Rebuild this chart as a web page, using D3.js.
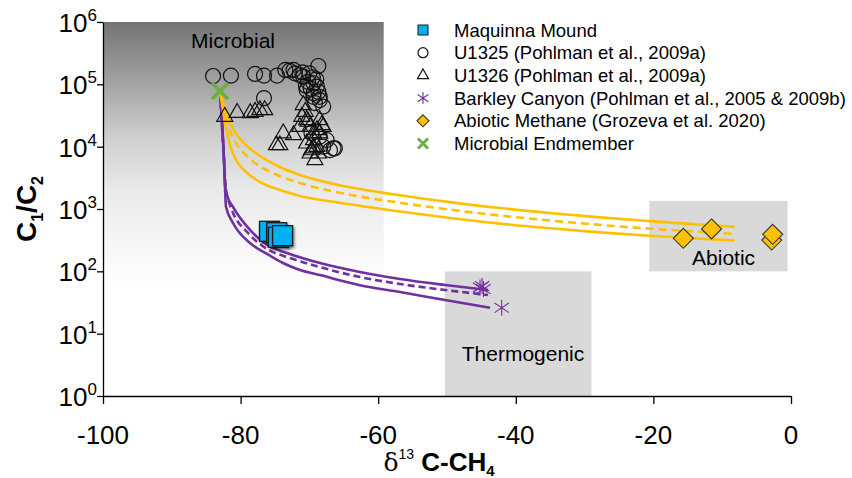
<!DOCTYPE html>
<html>
<head>
<meta charset="utf-8">
<script src="https://cdn.jsdelivr.net/npm/d3@7"></script>
<style>
  body { margin: 0; background: #fff; }
  svg { display: block; }
  text { font-family: "Liberation Sans", Arial, sans-serif; fill: #000; }
</style>
</head>
<body>
<svg id="chart" width="852" height="478"></svg>
<script>
// ---- axis ticks ----
const xTicks = [-100, -80, -60, -40, -20, 0];
const yExponents = [0, 1, 2, 3, 4, 5, 6];

// ---- samples: [δ13C-CH4, C1/C2] ----
const maquinna = [[-75.8, 439], [-74.75, 417], [-74.5, 352], [-73.9, 373]];

const u1325 = [
  [-84.0, 1.36e5], [-81.4, 1.38e5], [-77.9, 1.47e5], [-76.6, 1.38e5], [-74.7, 1.38e5],
  [-73.5, 1.7e5], [-72.9, 1.66e5], [-72.3, 1.7e5], [-72.1, 1.5e5], [-71.4, 1.41e5],
  [-68.7, 1.97e5], [-76.6, 6.0e4], [-70.9, 1.33e5], [-70.2, 1.1e5], [-69.4, 1.04e5],
  [-68.9, 9.2e4], [-68.7, 7.6e4], [-69.4, 7.2e4], [-70.4, 8.1e4], [-68.5, 5.6e4],
  [-69.2, 5.0e4], [-68.0, 4.4e4], [-68.5, 6.3e4], [-69.4, 6.3e4], [-70.0, 1.5e5],
  [-69.5, 1.3e5], [-71.0, 1.55e5], [-69.0, 1.2e5], [-70.5, 9.5e4], [-69.8, 8.5e4],
  [-69.7, 1.66e4], [-68.5, 1.45e4], [-67.5, 1.28e4], [-66.5, 9.4e3], [-67.0, 8.8e3],
  [-68.0, 1.0e4], [-66.3, 9.4e3]
];

const u1326 = [
  [-82.3, 3.03e4], [-80.5, 3.5e4], [-78.6, 3.47e4], [-77.9, 3.64e4], [-77.2, 3.88e4],
  [-76.5, 3.88e4], [-70.9, 4.67e4], [-70.6, 3.64e4], [-71.1, 3.03e4], [-70.4, 2.68e4],
  [-68.5, 2.68e4], [-69.9, 2.09e4], [-68.0, 2.09e4], [-71.4, 2.09e4], [-69.4, 1.64e4],
  [-68.5, 1.64e4], [-73.8, 1.64e4], [-72.3, 1.54e4], [-69.4, 1.28e4], [-68.9, 1.0e4],
  [-69.7, 8.8e3], [-68.7, 7.8e3], [-69.2, 6.1e3], [-74.3, 1.06e4], [-68.9, 1.85e4],
  [-68.2, 2.23e4], [-70.2, 2.52e4], [-70.4, 1.13e4], [-69.4, 9.4e3], [-69.9, 7.8e3],
  [-74.8, 1.06e4]
];

const barkley = [[-45.2, 55], [-44.9, 58], [-44.7, 52], [-42.05, 26]];
const abiotic = [[-15.65, 339], [-11.55, 478], [-2.8, 318], [-2.66, 393]];
const endmember = [[-83.0, 7.8e4]];

// ---- mixing curves ----
const purpleUpper = [
  [-83.0, 7.8e4], [-82.41, 6.1e3], [-82.27, 2.43e3], [-81.98, 1.68e3], [-81.1, 1.08e3],
  [-78.63, 461], [-76.16, 265], [-73.26, 197], [-68.46, 136], [-62.65, 97.6],
  [-56.83, 75.4], [-50.29, 60.4], [-44.04, 50.2]
];
const purpleMid = [
  [-83.0, 7.8e4], [-82.41, 6.1e3], [-82.12, 2.02e3], [-81.54, 1.16e3], [-78.63, 383],
  [-76.16, 228], [-72.82, 164], [-68.46, 117], [-62.65, 81], [-56.83, 62.6],
  [-50.29, 50.2], [-44.04, 41.7]
];
const purpleLower = [
  [-83.0, 7.8e4], [-82.41, 6.1e3], [-82.12, 1.09e3], [-81.1, 597], [-78.63, 285],
  [-76.16, 190], [-73.84, 136], [-71.37, 105], [-68.46, 87], [-62.65, 60],
  [-56.83, 46.6], [-50.29, 34.7], [-43.75, 26.1]
];
const yellowUpper = [
  [-83.0, 7.8e4], [-82.27, 4.18e4], [-81.69, 2.68e4], [-80.81, 1.72e4], [-79.36, 1.1e4],
  [-77.18, 7.09e3], [-74.27, 4.72e3], [-71.37, 3.51e3], [-65.55, 2.4e3], [-56.83, 1.66e3],
  [-49.56, 1.29e3], [-42.3, 1.035e3], [-35.03, 861], [-27.76, 733], [-20.49, 638],
  [-13.23, 562], [-8.14, 519]
];
const yellowMid = [
  [-83.0, 7.8e4], [-82.41, 3.88e4], [-81.83, 2.23e4], [-81.1, 1.38e4], [-79.8, 8.53e3],
  [-77.91, 5.47e3], [-75.0, 3.65e3], [-71.37, 2.61e3], [-65.55, 1.82e3], [-56.83, 1.26e3],
  [-49.56, 977], [-42.3, 785], [-35.03, 653], [-27.76, 556], [-20.49, 484],
  [-13.23, 431], [-8.14, 398]
];
const yellowLower = [
  [-83.0, 7.8e4], [-82.56, 3.88e4], [-82.12, 2.0e4], [-81.54, 1.06e4], [-80.67, 6.11e3],
  [-79.22, 3.93e3], [-77.18, 2.71e3], [-74.27, 2.02e3], [-71.37, 1.62e3], [-65.55, 1.26e3],
  [-56.83, 912], [-49.56, 716], [-42.3, 582], [-35.03, 490], [-27.76, 422],
  [-20.49, 372], [-13.23, 335], [-8.14, 313]
];

// ---- source fields ----
const fieldNames = ["Microbial", "Thermogenic", "Abiotic"];
const fieldX = [[-100, -59.2], [-50.3, -29.0], [-20.6, -0.5]];
const fieldY = [[1e6, 50], [100, 1], [1350, 100]];
const fieldLabelAt = [[-81.1, 10 ** 5.711], [-38.95, 10 ** 0.674], [-9.8, 10 ** 2.214]];

const legendLabels = [
  "Maquinna Mound",
  "U1325 (Pohlman et al., 2009a)",
  "U1326 (Pohlman et al., 2009a)",
  "Barkley Canyon (Pohlman et al., 2005 & 2009b)",
  "Abiotic Methane (Grozeva et al. 2020)",
  "Microbial Endmember"
];

const BLUE = "#00b0f0", GOLD = "#ffc000", PURPLE = "#7030a0", GREEN = "#70ad47";

const svg = d3.select("#chart");
const x = d3.scaleLinear().domain([-100, 0]).range([103, 791]);
const y = d3.scaleLog().domain([1, 1e6]).range([396, 22]);

const defs = svg.append("defs");
const grad = defs.append("linearGradient").attr("id", "microbialFill")
  .attr("x1", 0).attr("y1", 0).attr("x2", 0).attr("y2", 1);
[[0, "#747474"], [0.2, "#9d9d9d"], [0.42, "#cdcdcd"], [0.62, "#e9e9e9"], [0.82, "#f6f6f6"], [1, "#ffffff"]]
  .forEach(([o, c]) => grad.append("stop").attr("offset", o).attr("stop-color", c));
const shadow = defs.append("filter").attr("id", "shadow")
  .attr("x", "-30%").attr("y", "-30%").attr("width", "170%").attr("height", "170%");
shadow.append("feDropShadow").attr("dx", 1.5).attr("dy", 2).attr("stdDeviation", 1)
  .attr("flood-color", "#000").attr("flood-opacity", 0.45);

// source field boxes
fieldNames.forEach((name, i) => {
  const [x0, x1] = fieldX[i], [y0, y1] = fieldY[i];
  svg.append("rect")
    .attr("x", x(x0)).attr("y", y(y0))
    .attr("width", x(x1) - x(x0)).attr("height", y(y1) - y(y0))
    .attr("fill", i === 0 ? "url(#microbialFill)" : "#d9d9d9");
});
fieldNames.forEach((name, i) => {
  const [lx, ly] = fieldLabelAt[i];
  svg.append("text").attr("x", x(lx)).attr("y", y(ly) + 7.5)
    .attr("text-anchor", "middle").style("font-size", "21px").text(name);
});

// axes
const xAxis = d3.axisBottom(x).tickValues(xTicks).tickSize(8).tickSizeOuter(0).tickFormat("");
const yAxis = d3.axisLeft(y).tickValues(yExponents.map(e => 10 ** e)).tickSize(6).tickSizeOuter(0).tickFormat("");
const gx = svg.append("g").attr("transform", `translate(0,${y(1)})`).call(xAxis);
const gy = svg.append("g").attr("transform", `translate(${x(-100)},0)`).call(yAxis);
[gx, gy].forEach(g => {
  g.selectAll("path, line").attr("stroke", "#000").attr("stroke-width", 1.3);
});

xTicks.forEach(t => {
  svg.append("text").attr("x", x(t)).attr("y", 444)
    .attr("text-anchor", "middle").style("font-size", "26px").text(t);
});
yExponents.forEach(e => {
  const t = svg.append("text").attr("x", 97).attr("y", y(10 ** e) + 10)
    .attr("text-anchor", "end").style("font-size", "26px");
  t.append("tspan").text("10");
  t.append("tspan").attr("dy", -11).style("font-size", "17px").text(e);
});

// axis titles
const xt = svg.append("text").attr("x", 439).attr("y", 471).attr("text-anchor", "middle");
xt.append("tspan").style("font-family", "'DejaVu Serif', serif").style("font-size", "25px").text("δ");
xt.append("tspan").attr("dy", -12).style("font-size", "14px").text("13");
xt.append("tspan").attr("dy", 12).style("font-size", "26px").style("font-weight", "bold").text(" C-CH");
xt.append("tspan").attr("dy", 5).style("font-size", "15px").style("font-weight", "bold").text("4");

const yt = svg.append("text").attr("transform", `translate(36,${(y(1) + y(1e6)) / 2}) rotate(-90)`)
  .attr("text-anchor", "middle").style("font-weight", "bold").style("font-size", "28px");
yt.append("tspan").text("C");
yt.append("tspan").attr("dy", 7).style("font-size", "16px").text("1");
yt.append("tspan").attr("dy", -7).text("/C");
yt.append("tspan").attr("dy", 7).style("font-size", "16px").text("2");

// mixing curves
const line = d3.line().x(d => x(d[0])).y(d => y(d[1])).curve(d3.curveMonotoneX);
const curves = [
  [purpleUpper, PURPLE, null], [purpleMid, PURPLE, "7,4"], [purpleLower, PURPLE, null],
  [yellowUpper, GOLD, null], [yellowMid, GOLD, "8,5"], [yellowLower, GOLD, null]
];
curves.forEach(([data, color, dash]) => {
  svg.append("path").datum(data).attr("d", line)
    .attr("fill", "none").attr("stroke", color).attr("stroke-width", 2.6)
    .attr("stroke-dasharray", dash);
});

// marker shapes
function triPath(s) {
  const h = s * Math.sqrt(3) / 2;
  return `M0,${-2 * h / 3}L${s / 2},${h / 3}L${-s / 2},${h / 3}Z`;
}
function starPath(r) {
  const w = r * 0.9;
  return `M0,${-r}L0,${r}M${-w},${-r * 0.6}L${w},${r * 0.6}M${-w},${r * 0.6}L${w},${-r * 0.6}`;
}
function diamondPath(r) { return `M0,${-r}L${r},0L0,${r}L${-r},0Z`; }
function crossPath(r) { return `M${-r},${-r}L${r},${r}M${-r},${r}L${r},${-r}`; }

function drawMarker(g, type, cx, cy, big) {
  const t = `translate(${cx},${cy})`;
  if (type === "square") {
    const s = big ? 20 : 10;
    g.append("rect").attr("x", cx - s / 2).attr("y", cy - s / 2).attr("width", s).attr("height", s)
      .attr("fill", BLUE).attr("stroke", "#1a1a1a").attr("stroke-width", big ? 1.3 : 1)
      .attr("filter", big ? "url(#shadow)" : null);
  } else if (type === "circle") {
    g.append("circle").attr("cx", cx).attr("cy", cy).attr("r", big ? 7.5 : 5)
      .attr("fill", "none").attr("stroke", "#111").attr("stroke-width", 1.2);
  } else if (type === "triangle") {
    g.append("path").attr("transform", t).attr("d", triPath(big ? 16 : 11))
      .attr("fill", "none").attr("stroke", "#111").attr("stroke-width", 1.2);
  } else if (type === "star") {
    g.append("path").attr("transform", t).attr("d", starPath(big ? 8 : 6))
      .attr("fill", "none").attr("stroke", PURPLE).attr("stroke-width", 1.1);
  } else if (type === "diamond") {
    g.append("path").attr("transform", t).attr("d", diamondPath(big ? 10 : 6))
      .attr("fill", GOLD).attr("stroke", "#333").attr("stroke-width", 1.1);
  } else if (type === "cross") {
    g.append("path").attr("transform", t).attr("d", crossPath(big ? 8 : 5))
      .attr("fill", "none").attr("stroke", GREEN).attr("stroke-width", big ? 4 : 3);
  }
}

const marks = svg.append("g");
const series = [
  [u1325, "circle"], [u1326, "triangle"], [maquinna, "square"],
  [barkley, "star"], [abiotic, "diamond"], [endmember, "cross"]
];
series.forEach(([data, type]) => {
  data.forEach(d => drawMarker(marks, type, x(d[0]), y(d[1]), true));
});

// legend
const legendTypes = ["square", "circle", "triangle", "star", "diamond", "cross"];
const legend = svg.append("g");
legendLabels.forEach((label, i) => {
  const cy = 30 + i * 22.7;
  drawMarker(legend, legendTypes[i], 423, cy, false);
  legend.append("text").attr("x", 454).attr("y", cy + 6.5).style("font-size", "18.5px").text(label);
});
</script>
</body>
</html>
